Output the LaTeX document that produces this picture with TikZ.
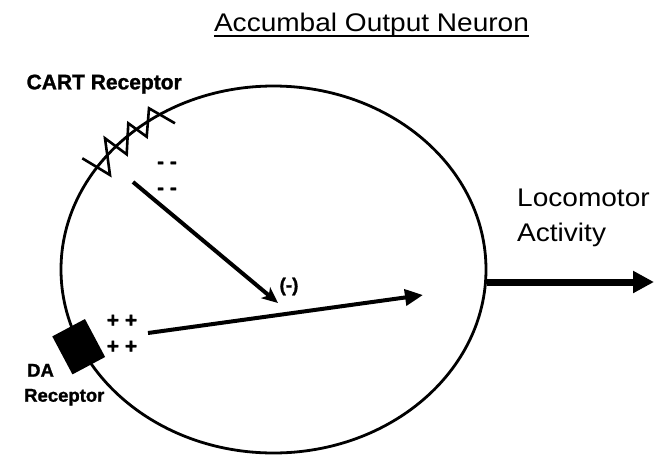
\documentclass[tikz,border=0pt]{standalone}
\usepackage{fontspec}
\setmainfont{Liberation Sans}
\newfontfamily\widesans[FakeStretch=1.1]{Liberation Sans}
\newfontfamily\heavysans[FakeBold=1.2]{Liberation Sans Bold}
\usetikzlibrary{arrows.meta,shapes.geometric}
\begin{document}
\begin{tikzpicture}[x=1pt,y=-1pt,
  lbl/.style={font=\widesans\fontsize{25.5}{30}\selectfont, inner sep=0pt},
  blbl/.style={font=\heavysans\fontsize{21}{25}\selectfont, inner sep=0pt},
  dalbl/.style={font=\heavysans\fontsize{18.5}{22}\selectfont, inner sep=0pt},
  sign/.style={font=\heavysans\fontsize{21}{25}\selectfont, inner sep=0pt},
  neglbl/.style={font=\heavysans\fontsize{19}{22}\selectfont, inner sep=0pt},
  cellshape/.style={ellipse, draw, line width=2.8pt, minimum width=425pt, minimum height=367pt, inner sep=0pt},
  receptorbox/.style={rectangle, fill=black, minimum width=37pt, minimum height=43pt, inner sep=0pt, rotate=28},
  zig/.style={line width=2.6pt, line join=miter},
  inarrow/.style={line width=4pt, -{Triangle[length=18pt,width=16pt]}},
  cartarrow/.style={line width=4pt, -{Stealth[length=16pt,width=14pt,inset=4pt]}},
  outarrow/.style={line width=7pt, -{Triangle[length=21pt,width=21pt]}}
]
\useasboundingbox (0,0) rectangle (654,456);
\fill[white] (0,0) rectangle (654,456);

% neuron
\node[cellshape] (cell) at (273.5,269.5) {};

% title
\node[lbl, anchor=base] (title) at (371.5,31.7) {Accumbal Output Neuron};
\draw[line width=2.2pt] ([yshift=-4.5pt]title.base west) -- ([yshift=-4.5pt]title.base east);

% CART receptor zigzag
\draw[zig] (82.3,158.3) -- (110,175) -- (105,138.3) -- (126.7,154.3) -- (128.3,123.3) -- (146.7,136.7) -- (149,108.3) -- (175,123.3);
\node[blbl, anchor=base east] (cart) at (182,89.3) {CART Receptor};

% DA receptor
\node[receptorbox] (dabox) at (78.7,346.7) {};
\node[dalbl, anchor=base west] (darec) at (24,401.7) {Receptor};
\path (darec.base west) ++(3,-25) node[dalbl, anchor=base west] (da) {DA};

% charges
\node[sign] (m1) at (167,165) {- -};
\node[sign] (m2) at (167,191) {- -};
\node[sign] (p1) at (122,321) {+ +};
\node[sign] (p2) at (122,347) {+ +};
\node[neglbl] (neg) at (289,286.5) {(-)};

% internal arrows
\coordinate (cartS) at (133,182);
\coordinate (cartE) at (278,303);
\draw[cartarrow] (cartS) -- (cartE);
\coordinate (daS) at (148,333);
\coordinate (daE) at (423,295);
\draw[inarrow] (daS) -- (daE);

% output
\coordinate (outE) at (654,282);
\draw[outarrow] (cell.east |- outE) -- (outE);
\node[lbl, anchor=base west] (loco) at (517,206) {Locomotor};
\node[lbl, anchor=base west] (act) at (517,241.7) {Activity};
\end{tikzpicture}
\end{document}
